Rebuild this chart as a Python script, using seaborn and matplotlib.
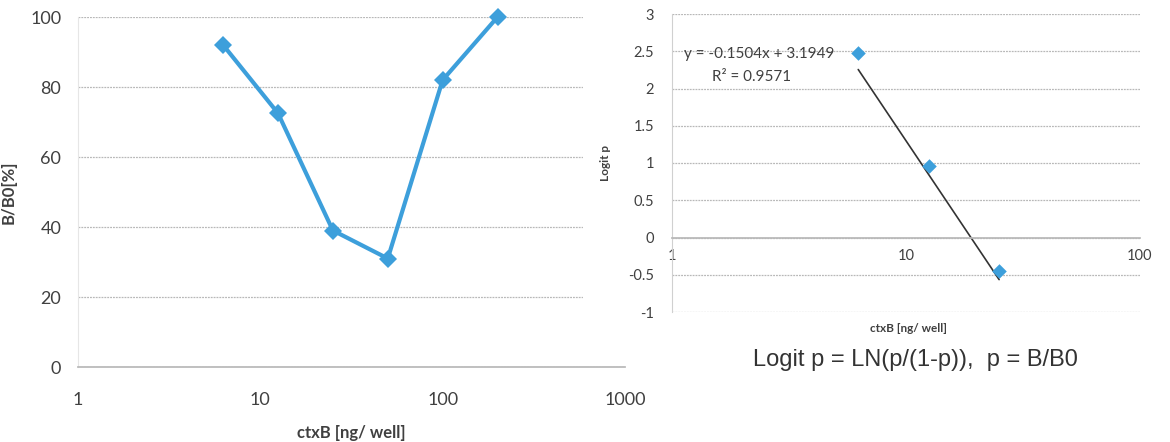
import matplotlib
matplotlib.use("Agg")
import matplotlib.pyplot as plt
from matplotlib.patches import Rectangle
import seaborn as sns
import pandas as pd
import numpy as np

# left chart: B/B0 vs ctxB
conc = [6.25, 12.5, 25, 50, 100, 200]
b_b0 = [92, 72.5, 39, 31, 82, 100]

# right chart: logit p vs ctxB (first three points)
conc_logit = [6.25, 12.5, 25]
logit_p = [2.48, 0.96, -0.45]
slope, intercept = -0.1504, 3.1949
r2 = 0.9571

blue = "#3d9fdb"
text_c = "#404040"
grid_c = "#b8b8b8"

sns.set_theme(style="white")
plt.rcParams["font.family"] = ["Lato", "DejaVu Sans"]

fig = plt.figure(figsize=(11.7, 4.42), dpi=100)
W, H = 1170, 442

def fax(x0, y0, x1, y1):
    return fig.add_axes([x0 / W, 1 - y1 / H, (x1 - x0) / W, (y1 - y0) / H])

# ---- left chart
ax = fax(78, 17, 625, 367)
df = pd.DataFrame({"conc": conc, "b": b_b0})
sns.lineplot(data=df, x="conc", y="b", ax=ax, color=blue, lw=3,
             marker="D", markersize=9, markeredgewidth=0, clip_on=False)
ax.set_xscale("log")
ax.set_xlim(1, 1000)
ax.set_ylim(0, 100)
ax.set_yticks(range(0, 101, 20))
ax.set_xticks([1, 10, 100, 1000])
ax.set_xticklabels(["1", "10", "100", "1000"])
ax.minorticks_off()
ax.grid(axis="y", color=grid_c, lw=0.9, ls=(0, (1.5, 0.8)))
ax.tick_params(axis="both", labelsize=13, colors=text_c, length=0)
ax.tick_params(axis="x", pad=18)
ax.tick_params(axis="y", pad=12)
for s in ["top", "right"]:
    ax.spines[s].set_visible(False)
ax.spines["left"].set_color("#e6e6e6")
ax.spines["bottom"].set_color(grid_c)
ax.spines["left"].set_linewidth(0.8)
ax.set_xlabel("ctxB [ng/ well]", fontsize=12, fontweight="bold", color=text_c, labelpad=12)
ax.set_ylabel("B/B0[%]", fontsize=12, fontweight="bold", color=text_c)
ax.yaxis.set_label_coords(-0.112, 0.5)

# right chart pasted over the left one
fig.add_artist(Rectangle((583 / W, 1 - 340 / H), (W - 583) / W, 340 / H,
                         transform=fig.transFigure, facecolor="white",
                         edgecolor="none", zorder=5))

ax2 = fax(672, 14, 1140, 312)
ax2.set_zorder(6)
df2 = pd.DataFrame({"conc": conc_logit, "logit": logit_p})
sns.scatterplot(data=df2, x="conc", y="logit", ax=ax2, color=blue,
                marker="D", s=55, linewidth=0, zorder=3)
xs = np.array([conc_logit[0], conc_logit[-1]])
ax2.plot(xs, slope * xs + intercept, color="#333333", lw=1.2, zorder=2)
ax2.set_xscale("log")
ax2.set_xlim(1, 100)
ax2.set_ylim(-1, 3)
ax2.set_yticks(np.arange(-1, 3.01, 0.5))
ax2.set_yticklabels(["-1", "-0.5", "0", "0.5", "1", "1.5", "2", "2.5", "3"])
ax2.set_xticks([1, 10, 100])
ax2.set_xticklabels(["1", "10", "100"])
ax2.minorticks_off()
ax2.grid(axis="y", color=grid_c, lw=0.9, ls=(0, (1.5, 0.8)))
ax2.spines["bottom"].set_position(("data", 0))
for s in ["top", "right"]:
    ax2.spines[s].set_visible(False)
ax2.spines["bottom"].set_color(grid_c)
ax2.spines["left"].set_color("#d0d0d0")
ax2.spines["left"].set_linewidth(0.8)
ax2.tick_params(axis="y", labelsize=10.5, colors=text_c, length=3, color="#d0d0d0", pad=10)
ax2.tick_params(axis="x", labelsize=10.5, colors=text_c, length=0, pad=8)
ax2.set_xlabel("")
ax2.set_ylabel("Logit p", fontsize=8.5, fontweight="bold", color=text_c, labelpad=12)
ax2.text(0.025, 0.865, f"y = {slope}x + {intercept}", transform=ax2.transAxes,
         fontsize=11, color=text_c, ha="left", va="center")
ax2.text(0.085, 0.79, f"R² = {r2}", transform=ax2.transAxes,
         fontsize=11, color=text_c, ha="left", va="center")

fig.text(908 / W, 1 - 328 / H, "ctxB [ng/ well]", fontsize=8.5, fontweight="bold",
         color=text_c, ha="center", va="center", zorder=8)
fig.text(915 / W, 1 - 360 / H, "Logit p = LN(p/(1-p)),  p = B/B0",
         family=["Liberation Sans", "DejaVu Sans"], fontsize=17,
         color="#333333", ha="center", va="center", zorder=8)

fig.savefig("out.png", dpi=100, facecolor="white")
